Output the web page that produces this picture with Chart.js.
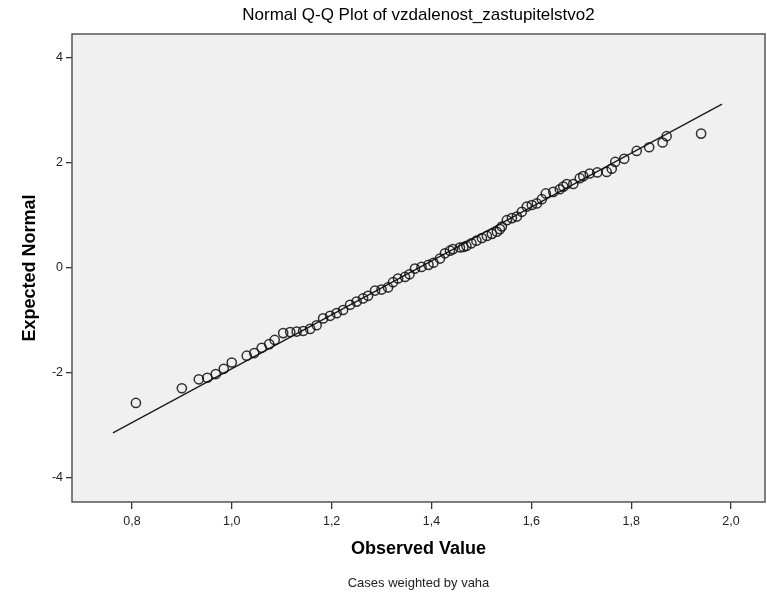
<!DOCTYPE html>
<html>
<head>
<meta charset="utf-8">
<script src="https://cdn.jsdelivr.net/npm/chart.js@4.4.1/dist/chart.umd.min.js"></script>
<style>
  html, body { margin: 0; padding: 0; background: #ffffff; }
  #qq { display: block; }
</style>
</head>
<body>
<canvas id="qq" width="767" height="594"></canvas>
<script>
// Normal Q-Q plot, values

// observed values (x) and the expected normal scores (y)
var observedValues = [
  0.808, 0.900, 0.934, 0.951, 0.968, 0.984, 1.000, 1.030, 1.045, 1.060,
  1.075, 1.086, 1.103, 1.117, 1.130, 1.143, 1.157, 1.170, 1.183, 1.197,
  1.210, 1.223, 1.237, 1.250, 1.263, 1.273, 1.287, 1.300, 1.313, 1.323,
  1.333, 1.347, 1.356, 1.367, 1.380, 1.394, 1.404, 1.417, 1.427, 1.437,
  1.443, 1.457, 1.464, 1.470, 1.480, 1.490, 1.501, 1.511, 1.521, 1.531,
  1.537, 1.541, 1.551, 1.561, 1.571, 1.581, 1.591, 1.601, 1.611, 1.621,
  1.629, 1.644, 1.657, 1.664, 1.671, 1.684, 1.697, 1.704, 1.717, 1.732,
  1.751, 1.761, 1.768, 1.786, 1.811, 1.836, 1.863, 1.871, 1.940
];
var expectedNormal = [
  -2.57, -2.29, -2.12, -2.09, -2.02, -1.92, -1.80, -1.67, -1.62, -1.52,
  -1.45, -1.37, -1.24, -1.22, -1.21, -1.20, -1.16, -1.09, -0.96, -0.91,
  -0.86, -0.80, -0.70, -0.64, -0.58, -0.53, -0.43, -0.41, -0.37, -0.27,
  -0.20, -0.17, -0.12, -0.01, 0.02, 0.06, 0.10, 0.18, 0.28, 0.33,
  0.36, 0.39, 0.40, 0.42, 0.47, 0.52, 0.57, 0.61, 0.65, 0.69,
  0.74, 0.79, 0.91, 0.95, 0.98, 1.07, 1.17, 1.20, 1.23, 1.31,
  1.42, 1.45, 1.50, 1.55, 1.60, 1.60, 1.71, 1.75, 1.80, 1.82,
  1.83, 1.89, 2.02, 2.08, 2.23, 2.30, 2.39, 2.51, 2.56
];

// reference line end points
var lineX = [0.762, 1.982];
var lineY = [-3.14, 3.12];

// tick labels
var xTicks = [0.8, 1.0, 1.2, 1.4, 1.6, 1.8, 2.0];
var yTicks = [-4, -2, 0, 2, 4];

var FONT = '"Liberation Sans", Arial, "DejaVu Sans", sans-serif';

// plot area background and frame
var framePlugin = {
  id: 'frame',
  beforeDatasetsDraw: function(chart) {
    var a = chart.chartArea, ctx = chart.ctx;
    ctx.save();
    ctx.fillStyle = '#f0f0f0';
    ctx.fillRect(a.left, a.top, a.right - a.left, a.bottom - a.top);
    ctx.restore();
  },
  afterDatasetsDraw: function(chart) {
    var a = chart.chartArea, ctx = chart.ctx;
    ctx.save();
    ctx.strokeStyle = '#555555';
    ctx.lineWidth = 1.5;
    ctx.strokeRect(a.left, a.top, a.right - a.left, a.bottom - a.top);
    ctx.restore();
  }
};

var points = observedValues.map(function(v, i) { return { x: v, y: expectedNormal[i] }; });
var linePts = lineX.map(function(v, i) { return { x: v, y: lineY[i] }; });

new Chart(document.getElementById('qq'), {
  type: 'scatter',
  data: {
    datasets: [
      {
        label: 'line',
        data: linePts,
        showLine: true,
        pointRadius: 0,
        borderColor: '#1a1a1a',
        borderWidth: 1.3,
        order: 2
      },
      {
        label: 'observed',
        data: points,
        pointRadius: 4.6,
        pointBorderWidth: 1.5,
        pointBorderColor: 'rgba(15,15,15,0.85)',
        pointBackgroundColor: 'rgba(0,0,0,0)',
        order: 1
      }
    ]
  },
  options: {
    responsive: false,
    animation: false,
    layout: { autoPadding: false, padding: { left: 0, right: 2, top: 0, bottom: 0 } },
    plugins: {
      legend: { display: false },
      tooltip: { enabled: false },
      title: {
        display: true,
        fullSize: false,
        text: 'Normal Q-Q Plot of vzdalenost_zastupitelstvo2',
        color: '#000',
        font: { family: FONT, size: 17, weight: 'normal' },
        padding: { top: 5, bottom: 8.6 }
      },
      subtitle: {
        display: true,
        position: 'bottom',
        fullSize: false,
        text: 'Cases weighted by vaha',
        color: '#222',
        font: { family: FONT, size: 13 },
        padding: { top: 0, bottom: 2.4 }
      }
    },
    scales: {
      x: {
        type: 'linear',
        min: 0.68,
        max: 2.068,
        afterBuildTicks: function(axis) { axis.ticks = xTicks.map(function(v) { return { value: v }; }); },
        afterFit: function(axis) { axis.height = 74; axis.paddingLeft = 0; axis.paddingRight = 0; },
        border: { display: false },
        grid: { drawOnChartArea: false, drawTicks: true, tickLength: 7, color: '#333', lineWidth: 1.3 },
        ticks: {
          color: '#222',
          padding: 5,
          font: { family: FONT, size: 12.5 },
          callback: function(v) { return v.toFixed(1).replace('.', ','); }
        },
        title: {
          display: true,
          text: 'Observed Value',
          color: '#000',
          font: { family: FONT, size: 18, weight: 'bold' },
          padding: { top: 0, bottom: 16.2 }
        }
      },
      y: {
        type: 'linear',
        min: -4.457,
        max: 4.457,
        afterBuildTicks: function(axis) { axis.ticks = yTicks.map(function(v) { return { value: v }; }); },
        afterFit: function(axis) { axis.width = 72; axis.paddingTop = 0; axis.paddingBottom = 0; },
        border: { display: false },
        grid: { drawOnChartArea: false, drawTicks: true, tickLength: 6, color: '#333', lineWidth: 1.3 },
        ticks: {
          color: '#222',
          padding: 3,
          font: { family: FONT, size: 12.5 },
          callback: function(v) { return String(v); }
        },
        title: {
          display: true,
          text: 'Expected Normal',
          color: '#000',
          font: { family: FONT, size: 18, weight: 'bold' },
          padding: { top: 19.5, bottom: 0 }
        }
      }
    }
  },
  plugins: [framePlugin]
});
</script>
</body>
</html>
